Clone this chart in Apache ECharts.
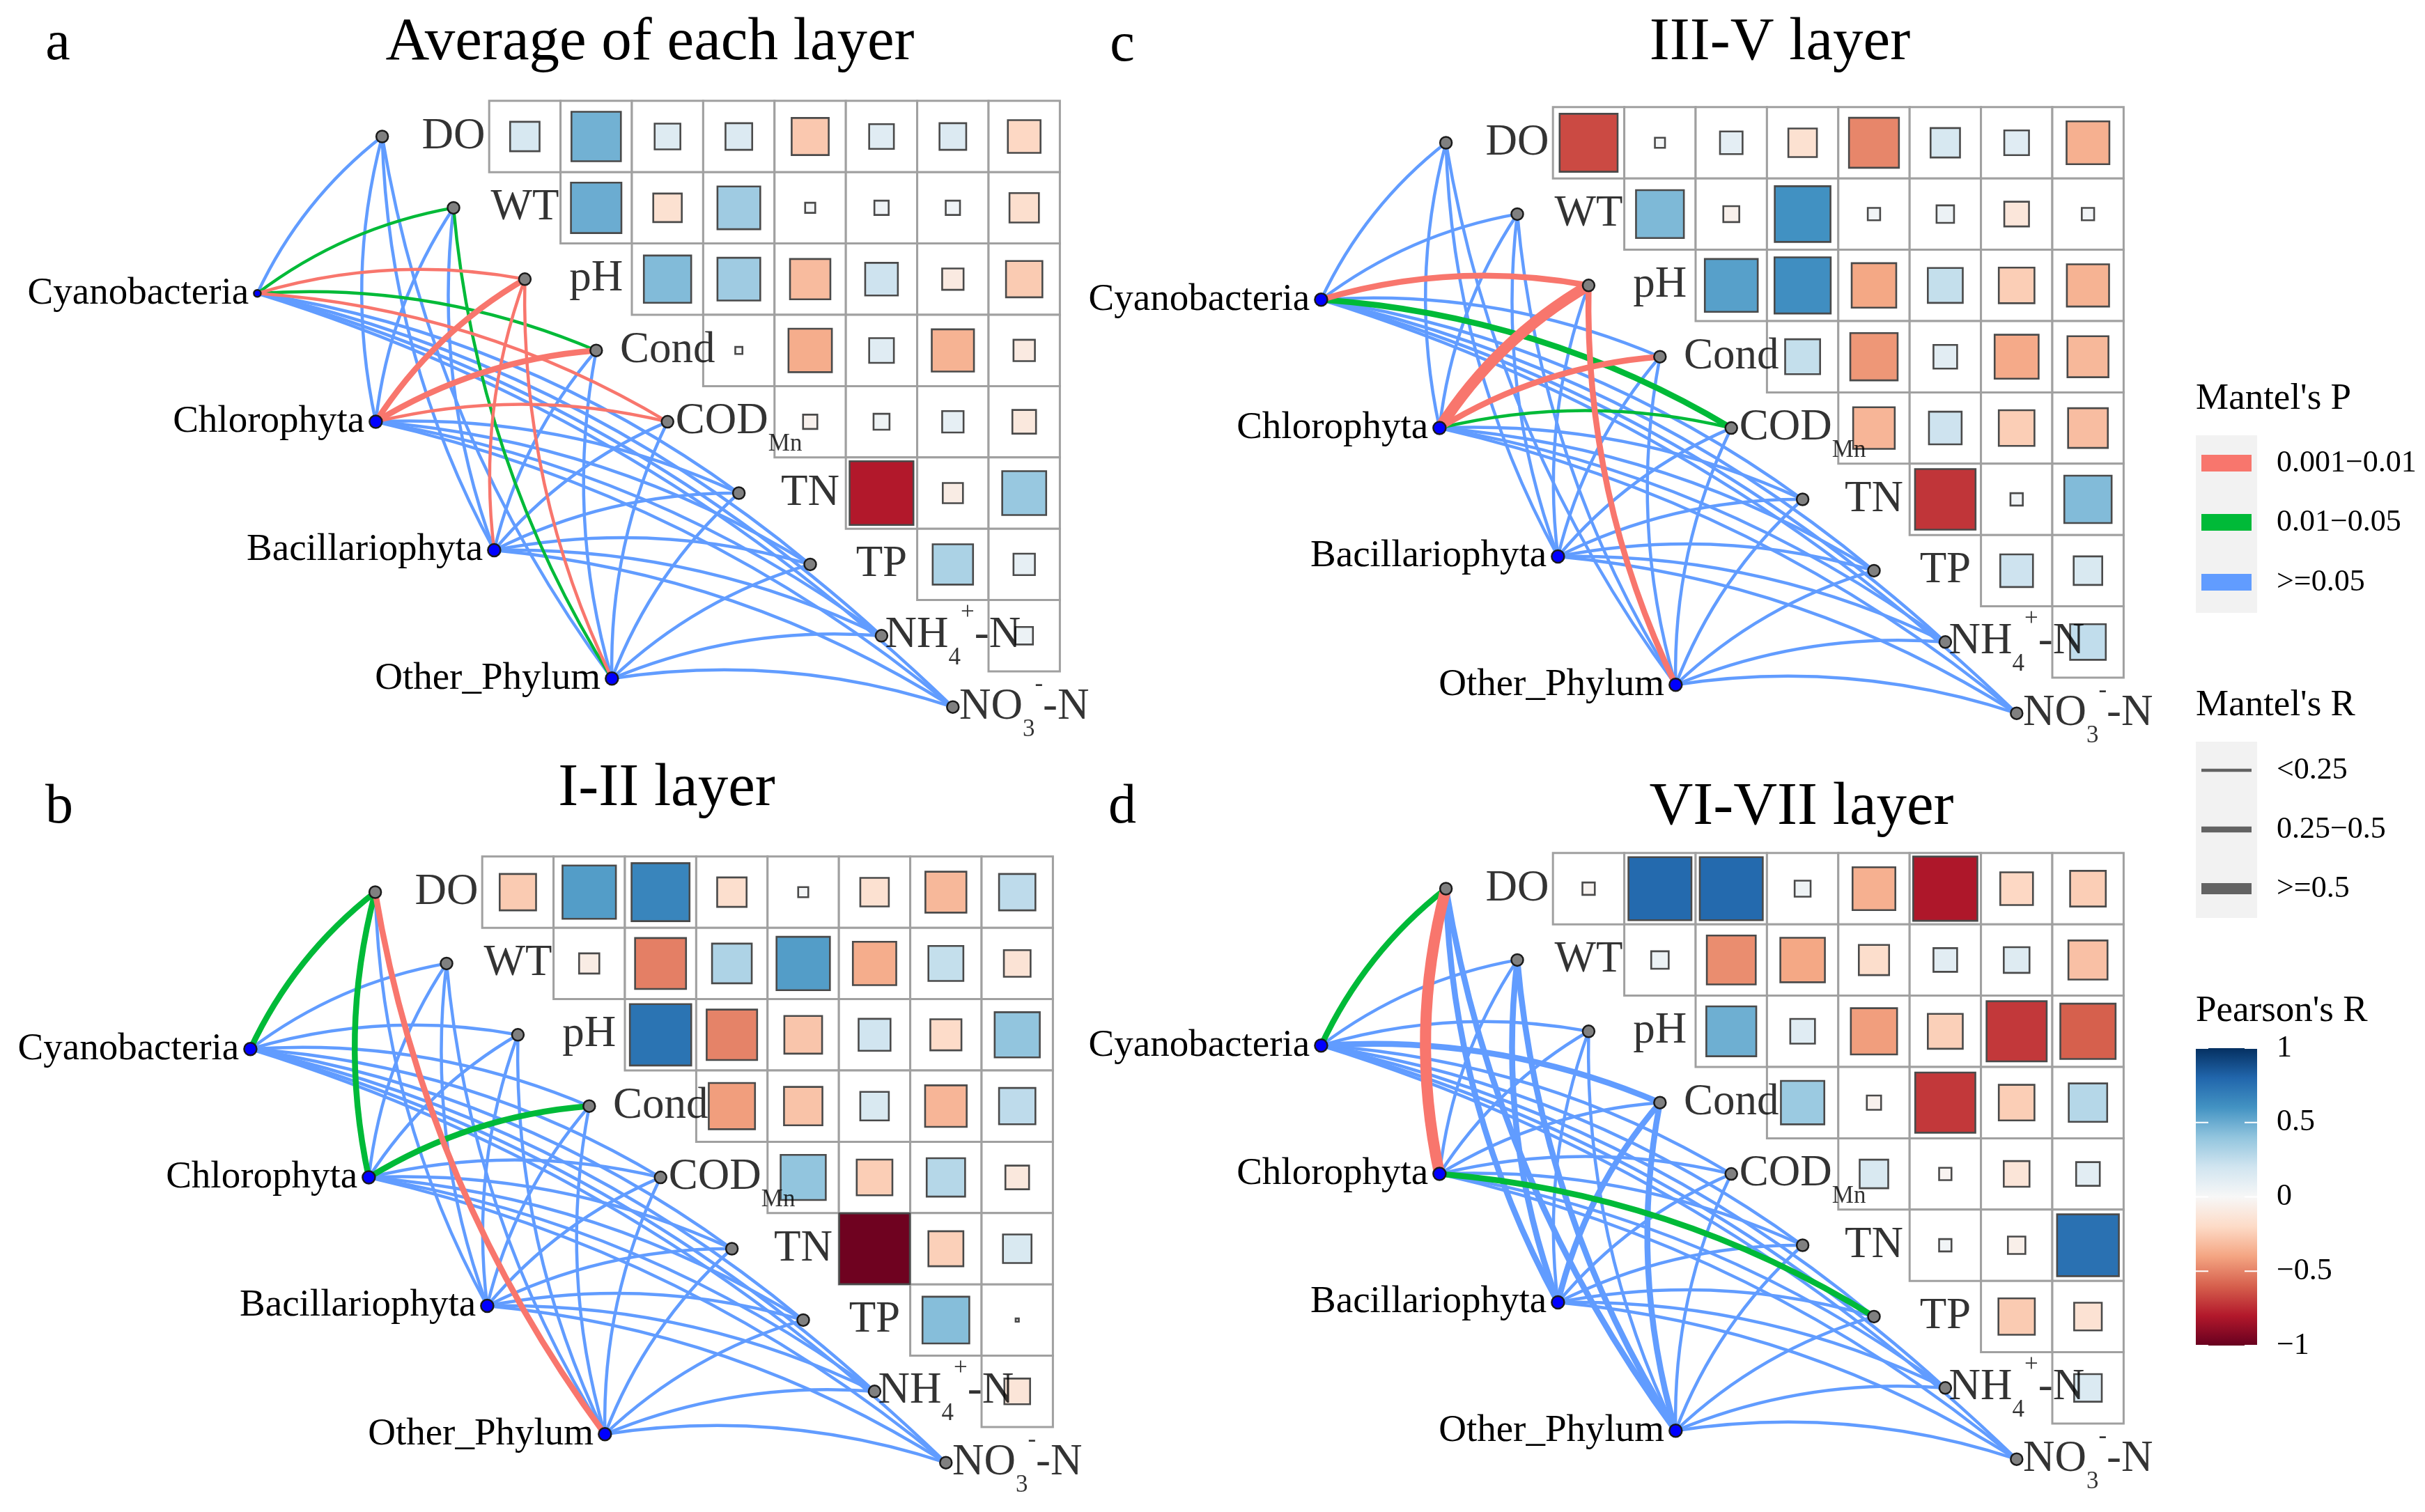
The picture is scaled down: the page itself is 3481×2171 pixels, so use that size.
<!DOCTYPE html>
<html>
<head>
<meta charset="utf-8">
<script src="https://cdn.jsdelivr.net/npm/echarts@6/dist/echarts.min.js"></script>
<style>
html,body{margin:0;padding:0;background:#ffffff;}
#chart{width:3481px;height:2171px;}
</style>
</head>
<body>
<div id="chart"></div>
<script>
// ---------------- DATA ----------------
const envVars = ['DO', 'WT', 'pH', 'Cond', 'COD_{Mn}', 'TN', 'TP', 'NH_{4}^{+}-N', 'NO_{3}^{-}-N'];
const species = ['Cyanobacteria', 'Chlorophyta', 'Bacillariophyta', 'Other_Phylum'];
const panelTitles = ['Average of each layer', 'I-II layer', 'III-V layer', 'VI-VII layer'];
const panelLetters = ['a', 'b', 'c', 'd'];
const pLevels = ['0.001\u22120.01', '0.01\u22120.05', '>=0.05'];
const rLevels = ['<0.25', '0.25\u22120.5', '>=0.5'];
const colorTicks = [1, 0.5, 0, -0.5, -1];

// Pearson's r, upper triangle, row by row (DO: WT..NO3, WT: pH..NO3, ...)
const corrA = [
  0.17, 0.48, 0.13, 0.14, -0.27, 0.12, 0.14, -0.21,
  0.50, -0.16, 0.36, 0.02, 0.04, 0.04, -0.17,
  0.44, 0.36, -0.32, 0.21, -0.09, -0.26,
  0.01, -0.37, 0.12, -0.35, -0.09,
  -0.04, 0.05, 0.09, -0.11,
  -0.80, -0.08, 0.38,
  0.32, 0.09,
  0.06
];
const corrB = [
  -0.26, 0.56, 0.66, -0.17, 0.02, -0.16, -0.33, 0.26,
  -0.08, -0.51, 0.31, 0.56, -0.37, 0.24, -0.14,
  0.74, -0.50, -0.28, 0.20, -0.19, 0.40,
  -0.42, -0.29, 0.16, -0.34, 0.26,
  0.40, -0.25, 0.29, -0.11,
  -0.98, -0.24, 0.16,
  0.43, 0.002,
  -0.13
];
const corrC = [
  -0.66, 0.02, 0.10, -0.16, -0.49, 0.17, 0.12, -0.36,
  0.45, -0.05, 0.61, 0.03, 0.06, -0.12, 0.03,
  0.55, 0.62, -0.39, 0.24, -0.25, -0.35,
  0.24, -0.44, 0.11, -0.38, -0.33,
  -0.34, 0.21, -0.25, -0.31,
  -0.72, 0.03, 0.44,
  0.21, 0.16,
  0.25
];
const corrD = [
  -0.03, 0.78, 0.78, 0.05, -0.36, -0.81, -0.21, -0.25,
  0.06, -0.47, -0.39, -0.18, 0.11, 0.13, -0.30,
  0.49, 0.12, -0.42, -0.24, -0.71, -0.60,
  0.37, -0.04, -0.71, -0.25, 0.29,
  0.16, -0.03, -0.13, 0.11,
  0.03, -0.06, 0.75,
  -0.26, -0.15,
  0.15
];

// Mantel's P class (1: 0.001-0.01, 2: 0.01-0.05, 3: >=0.05), rows = species, cols = envVars
const mantelPA = [
  [3, 2, 1, 2, 1, 3, 3, 3, 3],
  [3, 3, 1, 1, 1, 3, 3, 3, 3],
  [3, 3, 1, 3, 3, 3, 3, 3, 3],
  [3, 2, 1, 3, 3, 3, 3, 3, 3]
];
const mantelPB = [
  [2, 3, 3, 3, 3, 3, 3, 3, 3],
  [2, 3, 3, 2, 3, 3, 3, 3, 3],
  [3, 3, 3, 3, 3, 3, 3, 3, 3],
  [1, 3, 3, 3, 3, 3, 3, 3, 3]
];
const mantelPC = [
  [3, 3, 1, 3, 2, 3, 3, 3, 3],
  [3, 3, 1, 1, 2, 3, 3, 3, 3],
  [3, 3, 3, 3, 3, 3, 3, 3, 3],
  [3, 3, 1, 3, 3, 3, 3, 3, 3]
];
const mantelPD = [
  [2, 3, 3, 3, 3, 3, 3, 3, 3],
  [1, 3, 3, 3, 3, 3, 2, 3, 3],
  [3, 3, 3, 3, 3, 3, 3, 3, 3],
  [3, 3, 3, 3, 3, 3, 3, 3, 3]
];
// Mantel's R class (1: <0.25, 2: 0.25-0.5, 3: >=0.5)
const mantelRA = [
  [1, 1, 1, 1, 1, 1, 1, 1, 1],
  [1, 1, 2, 2, 1, 1, 1, 1, 1],
  [1, 1, 1, 1, 1, 1, 1, 1, 1],
  [1, 1, 1, 1, 1, 1, 1, 1, 1]
];
const mantelRB = [
  [2, 1, 1, 1, 1, 1, 1, 1, 1],
  [2, 1, 1, 2, 1, 1, 1, 1, 1],
  [1, 1, 1, 1, 1, 1, 1, 1, 1],
  [2, 1, 1, 1, 1, 1, 1, 1, 1]
];
const mantelRC = [
  [1, 1, 2, 1, 2, 1, 1, 1, 1],
  [1, 1, 3, 2, 1, 1, 1, 1, 1],
  [1, 1, 1, 1, 1, 1, 1, 1, 1],
  [1, 1, 2, 1, 1, 1, 1, 1, 1]
];
const mantelRD = [
  [2, 1, 1, 2, 1, 1, 1, 1, 1],
  [3, 1, 1, 1, 1, 1, 2, 1, 1],
  [2, 2, 1, 2, 1, 1, 1, 1, 1],
  [2, 2, 1, 2, 1, 1, 1, 1, 1]
];

const corrAll = [corrA, corrB, corrC, corrD];
const mantelPAll = [mantelPA, mantelPB, mantelPC, mantelPD];
const mantelRAll = [mantelRA, mantelRB, mantelRC, mantelRD];

// ---------------- LAYOUT / STYLE ----------------
const FONT = '"Liberation Serif", "Times New Roman", serif';
const CELL = 102.4;
const XMIN = -4, XMAX = 10, YMIN = 0, YMAX = 10;
const panelLayout = [
  { cx: 651,  cy: 196,  title: [933, 62],   letter: [83, 64] },
  { cx: 641,  cy: 1281, title: [957, 1133], letter: [85, 1160] },
  { cx: 2178, cy: 205,  title: [2555, 62],  letter: [1611, 66] },
  { cx: 2178, cy: 1276, title: [2586, 1160], letter: [1611, 1160] }
];
const speciesLayout = [[-1.75, 3.2], [-0.09, 5.0], [1.57, 6.8], [3.22, 8.6]];
const P_COLORS = ['#F8766D', '#00BA38', '#619CFF'];
const R_WIDTHS = [4.5, 8.5, 16];
const RDBU = ['#67001F', '#B2182B', '#D6604D', '#F4A582', '#FDDBC7', '#F7F7F7',
              '#D1E5F0', '#92C5DE', '#4393C3', '#2166AC', '#053061'];

function richName(name) {
  const parts = name.split(/(_\{[^}]*\}|\^\{[^}]*\})/);
  return parts.filter(p => p.length).map(p => {
    if (p.startsWith('_{')) return '{s|' + p.slice(2, -1) + '}';
    if (p.startsWith('^{')) return '{p|' + p.slice(2, -1) + '}';
    return '{m|' + p + '}';
  }).join('');
}

const series = [];
const squareSeriesIdx = [];

panelLayout.forEach((pl, pi) => {
  const corr = corrAll[pi];
  const bg = [], sq = [];
  let idx = 0;
  for (let i = 0; i < envVars.length; i++) {
    for (let j = i + 1; j < envVars.length; j++) {
      bg.push([j + 1, i + 1]);
      sq.push([j + 1, i + 1, corr[idx]]);
      idx++;
    }
  }
  // cell backgrounds
  series.push({
    type: 'scatter', xAxisIndex: pi, yAxisIndex: pi, silent: true, z: 1,
    symbol: 'rect', symbolSize: CELL, data: bg,
    itemStyle: { color: '#ffffff', borderColor: '#a0a0a0', borderWidth: 3, opacity: 1 }
  });
  // correlation squares
  squareSeriesIdx.push(series.length);
  series.push({
    type: 'scatter', xAxisIndex: pi, yAxisIndex: pi, silent: true, z: 2,
    symbol: 'rect',
    symbolSize: v => Math.sqrt(Math.abs(v[2])) * CELL,
    data: sq,
    itemStyle: { borderColor: '#4a4a4a', borderWidth: 2.6, opacity: 1 }
  });
  // Mantel links
  const P = mantelPAll[pi], R = mantelRAll[pi];
  const links = [];
  for (let s = 0; s < species.length; s++) {
    for (let k = 0; k < envVars.length; k++) {
      links.push({ s, k, p: P[s][k], r: R[s][k] });
    }
  }
  links.sort((a, b) => (b.p - a.p) || (a.r - b.r));
  series.push({
    type: 'lines', coordinateSystem: 'cartesian2d', xAxisIndex: pi, yAxisIndex: pi,
    silent: true, z: 3, polyline: false,
    lineStyle: { curveness: 0.12, opacity: 1 },
    data: links.map(l => ({
      coords: [speciesLayout[l.s], [l.k, l.k + 1]],
      lineStyle: { color: P_COLORS[l.p - 1], width: R_WIDTHS[l.r - 1], curveness: 0.12, opacity: 1 }
    }))
  });
  // env nodes
  series.push({
    type: 'scatter', xAxisIndex: pi, yAxisIndex: pi, silent: true, z: 4,
    symbol: 'circle', symbolSize: 17,
    data: envVars.map((e, k) => [k, k + 1]),
    itemStyle: { color: '#808080', borderColor: '#1a1a1a', borderWidth: 2.5, opacity: 1 }
  });
  // species nodes + labels
  series.push({
    type: 'scatter', xAxisIndex: pi, yAxisIndex: pi, silent: true, z: 4,
    symbol: 'circle',
    data: species.map((sp, s) => ({
      value: speciesLayout[s], name: sp,
      symbolSize: (pi === 0 && s === 0) ? 10 : 18
    })),
    itemStyle: { color: '#0000FF', borderColor: '#1a1a1a', borderWidth: 2.5, opacity: 1 },
    label: {
      show: true, position: 'left', distance: 6,
      formatter: p => p.name,
      fontFamily: FONT, fontSize: 55, color: '#000000'
    }
  });
  // env labels at diagonal
  series.push({
    type: 'scatter', xAxisIndex: pi, yAxisIndex: pi, silent: true, z: 6,
    symbolSize: 1, itemStyle: { color: 'rgba(0,0,0,0)' },
    data: envVars.map((e, k) => ({ value: [k + 1, k + 1], name: e })),
    label: {
      show: true, position: 'inside',
      formatter: p => richName(p.name),
      rich: {
        m: { fontFamily: FONT, fontSize: 63, color: '#000', lineHeight: 100, verticalAlign: 'middle' },
        s: { fontFamily: FONT, fontSize: 35, color: '#000', lineHeight: 30, verticalAlign: 'bottom' },
        p: { fontFamily: FONT, fontSize: 35, color: '#000', lineHeight: 78, verticalAlign: 'top' }
      }
    }
  });
});

// ---------------- LEGEND (graphic) ----------------
const LX = 3152, LW = 88, LABX = 3268;
const graphic = [];
function txt(x, y, text, size) {
  graphic.push({ type: 'text', x, y, silent: true,
    style: { text, fontFamily: FONT, fontSize: size, fill: '#000', align: 'left', verticalAlign: 'middle' } });
}
// Mantel's P
txt(LX, 573, "Mantel's P", 53);
graphic.push({ type: 'rect', silent: true, shape: { x: LX, y: 625, width: LW, height: 255 }, style: { fill: '#F2F2F2' } });
const pY = [665, 750, 836];
pLevels.forEach((lab, i) => {
  graphic.push({ type: 'rect', silent: true, shape: { x: LX + 8, y: pY[i] - 12, width: LW - 16, height: 24 }, style: { fill: P_COLORS[i] } });
  txt(LABX, pY[i], lab, 44);
});
// Mantel's R
txt(LX, 1013, "Mantel's R", 53);
graphic.push({ type: 'rect', silent: true, shape: { x: LX, y: 1065, width: LW, height: 253 }, style: { fill: '#F2F2F2' } });
const rY = [1106, 1191, 1276];
rLevels.forEach((lab, i) => {
  graphic.push({ type: 'line', silent: true, shape: { x1: LX + 8, y1: rY[i], x2: LX + LW - 8, y2: rY[i] }, style: { stroke: '#636363', lineWidth: R_WIDTHS[i] } });
  txt(LABX, rY[i], lab, 44);
});
// Pearson's R colorbar
txt(LX, 1452, "Pearson's R", 53);
const CB_TOP = 1505, CB_H = 427;
graphic.push({ type: 'rect', silent: true, shape: { x: LX, y: CB_TOP, width: LW, height: CB_H },
  style: { fill: { type: 'linear', x: 0, y: 0, x2: 0, y2: 1,
    colorStops: RDBU.slice().reverse().map((c, i) => ({ offset: i / (RDBU.length - 1), color: c })) } } });
colorTicks.forEach(v => {
  const y = CB_TOP + (1 - v) / 2 * CB_H;
  graphic.push({ type: 'line', silent: true, shape: { x1: LX + LW - 18, y1: y, x2: LX + LW, y2: y }, style: { stroke: '#ffffff', lineWidth: 2 } });
  graphic.push({ type: 'line', silent: true, shape: { x1: LX, y1: y, x2: LX + 18, y2: y }, style: { stroke: '#ffffff', lineWidth: 2 } });
  txt(LABX, y, v < 0 ? '\u2212' + Math.abs(v) : String(v), 44);
});

// ---------------- OPTION ----------------
const titles = [];
panelLayout.forEach((pl, pi) => {
  titles.push({ text: panelTitles[pi], left: pl.title[0] - 5, top: pl.title[1] - 5, textAlign: 'center', textVerticalAlign: 'middle',
    textStyle: { fontFamily: FONT, fontSize: 87, fontWeight: 'normal', color: '#000' } });
  titles.push({ text: panelLetters[pi], left: pl.letter[0] - 5, top: pl.letter[1] - 5, textAlign: 'center', textVerticalAlign: 'middle',
    textStyle: { fontFamily: FONT, fontSize: 80, fontWeight: 'normal', color: '#000' } });
});

const option = {
  backgroundColor: '#ffffff',
  animation: false,
  title: titles,
  grid: panelLayout.map(pl => ({
    left: pl.cx - (1 - XMIN) * CELL, top: pl.cy - (1 - YMIN) * CELL,
    width: (XMAX - XMIN) * CELL, height: (YMAX - YMIN) * CELL,
    containLabel: false, outerBoundsMode: 'none', show: false
  })),
  xAxis: panelLayout.map((pl, i) => ({ type: 'value', gridIndex: i, min: XMIN, max: XMAX, show: false })),
  yAxis: panelLayout.map((pl, i) => ({ type: 'value', gridIndex: i, min: YMIN, max: YMAX, inverse: true, show: false })),
  visualMap: { type: 'continuous', show: false, min: -1, max: 1, dimension: 2, seriesIndex: squareSeriesIdx, inRange: { color: RDBU } },
  series,
  graphic
};

const chart = echarts.init(document.getElementById('chart'), null, { renderer: 'canvas' });
chart.setOption(option);
</script>
</body>
</html>
